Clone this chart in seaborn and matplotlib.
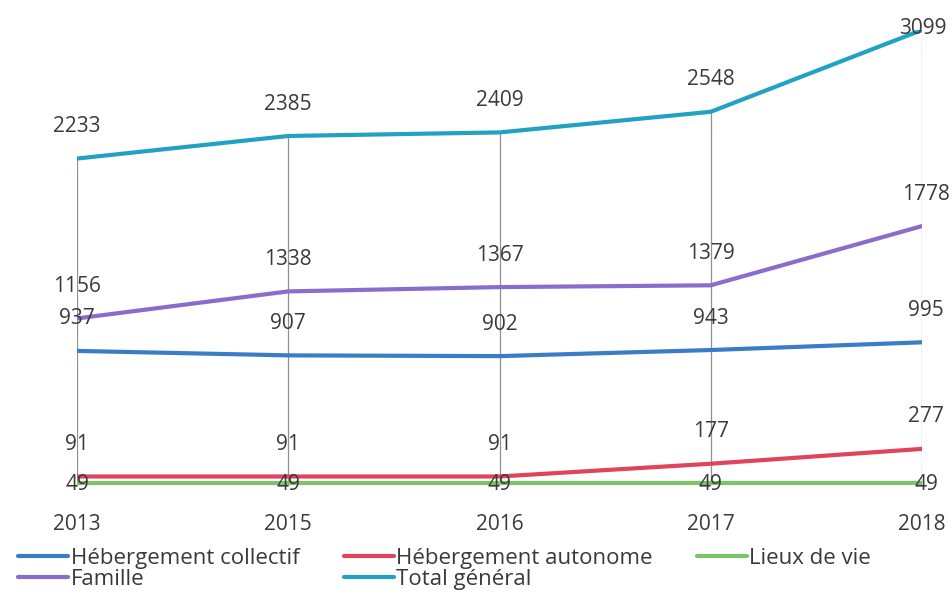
import numpy as np
import pandas as pd
import seaborn as sns
import matplotlib.pyplot as plt
from matplotlib.lines import Line2D

# data
years = ["2013", "2015", "2016", "2017", "2018"]
collectif = [937, 907, 902, 943, 995]
autonome = [91, 91, 91, 177, 277]
lieux = [49, 49, 49, 49, 49]
famille = [1156, 1338, 1367, 1379, 1778]
total = [2233, 2385, 2409, 2548, 3099]

series = ["Hébergement collectif", "Hébergement autonome", "Lieux de vie",
          "Famille", "Total général"]
colors = ["#3b7cc6", "#e0435c", "#7cc46a", "#8a6dca", "#22a2c2"]
txt = "#3a3a3a"

df = pd.DataFrame({
    "pos": list(range(len(years))) * 5,
    "value": collectif + autonome + lieux + famille + total,
    "serie": np.repeat(series, len(years)),
})

sns.set_style("white")
plt.rcParams['font.family'] = ['Open Sans', 'DejaVu Sans']

fig = plt.figure(figsize=(9.52, 5.93), dpi=100)
ax = fig.add_axes([77 / 952, 1 - 490 / 593, (922 - 77) / 952, 460 / 593])

# high-low lines
allv = np.array([collectif, autonome, lieux, famille, total])
ax.vlines(range(len(years)), allv.min(axis=0), allv.max(axis=0),
          color="#909090", lw=0.9, zorder=1)

sns.lineplot(data=df, x="pos", y="value", hue="serie", hue_order=series,
             palette=colors, lw=3, ax=ax, legend=False, zorder=3)

ax.set_xlim(0, 4)
ax.set_ylim(0, 3099)
sns.despine(ax=ax, left=True, bottom=True)
ax.set_yticks([])
ax.set_xticks(range(len(years)))
ax.set_xticklabels(years, fontsize=15, color=txt)
ax.tick_params(axis="x", length=0, pad=17)
ax.set_xlabel("")
ax.set_ylabel("")

# data labels
last = len(years) - 1
for vals in [collectif, autonome, famille, total]:
    for i, v in enumerate(vals):
        dy = 23
        dx = 3 if i == last else 0
        if v == max(total):
            dy, dx = 1, 0.5
        ax.annotate(str(v), (i, v), xytext=(dx, dy), textcoords="offset points",
                    ha="center", va="center", fontsize=15, color=txt,
                    annotation_clip=False, zorder=5)
for i, v in enumerate(lieux):
    dx = 3 if i == last else 0
    ax.annotate(str(v), (i, v), xytext=(dx, -1), textcoords="offset points",
                ha="center", va="center", fontsize=15, color=txt,
                annotation_clip=False, zorder=5)

# legend, order so that column fill gives the original rows
order = [0, 3, 1, 4, 2]
handles = [Line2D([], [], color=colors[k], lw=3) for k in order]
labels = [series[k] for k in order]
fig.legend(handles, labels, ncol=3, loc="upper left",
           bbox_to_anchor=(0.010, 1 - 539 / 593),
           frameon=False, fontsize=16, handlelength=2.25, handletextpad=0.1,
           columnspacing=2.0, labelspacing=0.0, borderaxespad=0,
           labelcolor=txt)

fig.savefig("out.png", dpi=100)
